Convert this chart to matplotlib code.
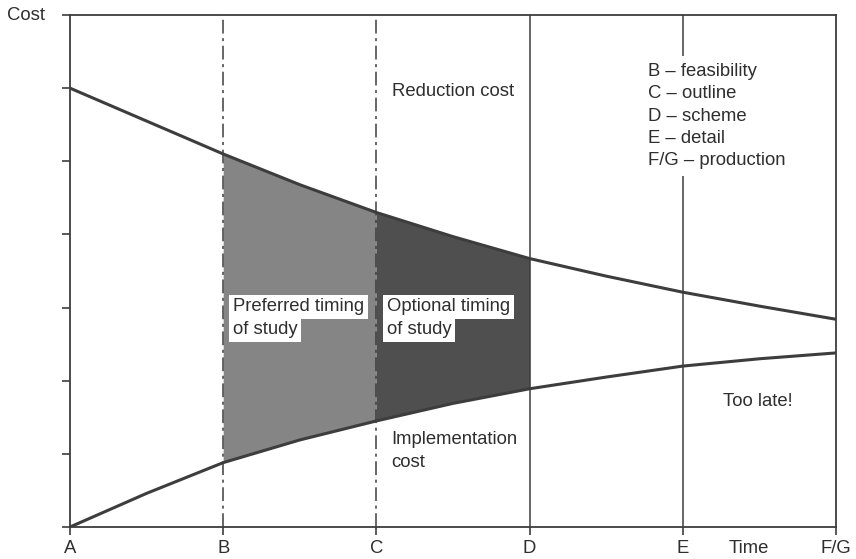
import numpy as np
import matplotlib.pyplot as plt

plt.rcParams['font.family'] = ['Liberation Sans', 'DejaVu Sans']

# stages along the time axis
stages = ['A', 'B', 'C', 'D', 'E', 'F/G']
stage_pos = [0, 1, 2, 3, 4, 5]

# curves (half-stage steps)
time = [0, 0.5, 1, 1.5, 2, 2.5, 3, 3.5, 4, 4.5, 5]
reduction = [6.0, 5.55, 5.10, 4.68, 4.30, 3.97, 3.67, 3.43, 3.21, 3.02, 2.84]
implementation = [0, 0.46, 0.88, 1.19, 1.45, 1.69, 1.89, 2.05, 2.20, 2.30, 2.38]

legend_lines = ['B \u2013 feasibility', 'C \u2013 outline', 'D \u2013 scheme',
                'E \u2013 detail', 'F/G \u2013 production']

ink = '#3d3d3d'
txt = '#2e2e2e'

fig = plt.figure(figsize=(8.56, 5.59), dpi=100)
ax = fig.add_axes([70 / 856, 1 - 527 / 559, 766 / 856, 512 / 559])

t = np.array(time)
r = np.array(reduction)
im = np.array(implementation)

# shaded study windows
m1 = (t >= 1) & (t <= 2)
ax.fill_between(t[m1], im[m1], r[m1], color='#858585', lw=0, zorder=1)
m2 = (t >= 2) & (t <= 3)
ax.fill_between(t[m2], im[m2], r[m2], color='#4f4f4f', lw=0, zorder=1)

# stage lines
for x in [1, 2]:
    ax.axvline(x, color=ink, lw=1.1, ls=(0, (9, 3, 2, 3)), zorder=2)
for x in [3, 4]:
    ax.axvline(x, color=ink, lw=1.1, zorder=2)

ax.plot(time, reduction, color=ink, lw=2.2, zorder=3)
ax.plot(time, implementation, color=ink, lw=2.2, zorder=3)

fs = 13.3

ax.set_xlim(0, 5)
ax.set_ylim(0, 7)
ax.set_xticks(stage_pos)
ax.set_xticklabels(stages)
ax.set_yticks(range(8))
ax.set_yticklabels([])
ax.tick_params(direction='out', length=6, width=1.2, color=ink,
               labelsize=fs, labelcolor=txt, pad=3.5)
for s in ax.spines.values():
    s.set_color(ink)
    s.set_linewidth(1.3)

ax.text(-0.16, 7, 'Cost', ha='right', va='center', fontsize=fs, color=txt)
ax.text(4.43, -0.29, 'Time', ha='center', va='center', fontsize=fs, color=txt,
        clip_on=False)

ax.text(2.10, 5.96, 'Reduction cost', ha='left', va='center', fontsize=fs, color=txt)
ax.text(2.10, 1.19, 'Implementation', ha='left', va='center', fontsize=fs, color=txt)
ax.text(2.10, 0.88, 'cost', ha='left', va='center', fontsize=fs, color=txt)
ax.text(4.49, 1.71, 'Too late!', ha='center', va='center', fontsize=fs, color=txt)

box = dict(boxstyle='square,pad=0.2', fc='white', ec='none')
ax.text(1.065, 3.01, 'Preferred timing', ha='left', va='center', fontsize=fs,
        color=txt, bbox=box, zorder=4)
ax.text(1.065, 2.70, 'of study', ha='left', va='center', fontsize=fs,
        color=txt, bbox=box, zorder=4)
ax.text(2.07, 3.01, 'Optional timing', ha='left', va='center', fontsize=fs,
        color=txt, bbox=box, zorder=4)
ax.text(2.07, 2.70, 'of study', ha='left', va='center', fontsize=fs,
        color=txt, bbox=box, zorder=4)

ax.text(3.77, 6.34, '\n'.join(legend_lines), ha='left', va='top', fontsize=fs,
        color=txt, linespacing=1.4,
        bbox=dict(boxstyle='square,pad=0.4', fc='white', ec='none'), zorder=4)

fig.savefig('out.png', dpi=100)
